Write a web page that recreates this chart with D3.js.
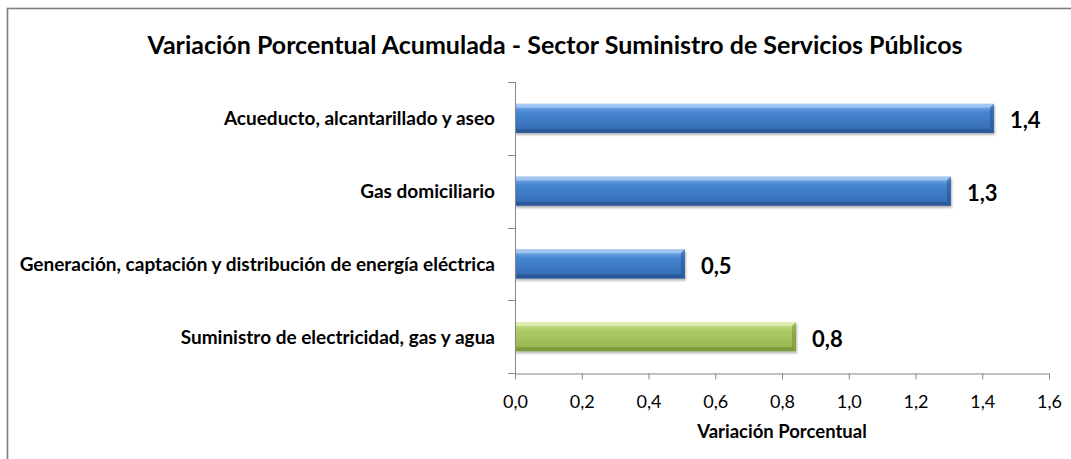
<!DOCTYPE html>
<html>
<head>
<meta charset="utf-8">
<script src="https://cdn.jsdelivr.net/npm/d3@7"></script>
<style>
  html, body { margin: 0; padding: 0; background: #fff; }
  svg { display: block; font-family: Lato, "Noto Sans", sans-serif; }
</style>
</head>
<body>
<svg id="chart" width="1071" height="459"></svg>
<script>
// Data
const categories = [
  'Acueducto, alcantarillado y aseo',
  'Gas domiciliario',
  'Generación, captación y distribución de energía eléctrica',
  'Suministro de electricidad, gas y agua'
];
const values = [1.435, 1.306, 0.509, 0.842];
const isTotal = [false, false, false, true];
const xTicks = [0, 0.2, 0.4, 0.6, 0.8, 1.0, 1.2, 1.4, 1.6];

const title = 'Variación Porcentual Acumulada - Sector Suministro de Servicios Públicos';
const xTitle = 'Variación Porcentual';

const svg = d3.select('#chart');
const W = 1071, H = 459;
const m = { left: 515, right: 1049, top: 82, bottom: 373 };

// outer frame
svg.append('rect')
  .attr('x', 7.5).attr('y', 8.5)
  .attr('width', W + 10).attr('height', H + 10)
  .attr('fill', 'none').attr('stroke', '#7f7f7f').attr('stroke-width', 1.6);

// Gradients
const defs = svg.append('defs');
const palettes = {
  blue: { top: '#86b6ec', mid: '#4684d2', bot: '#336aaf', dark: '#204a84', light: '#b0d2f7' },
  green: { top: '#d3e79c', mid: '#abc964', bot: '#94b24d', dark: '#6a8532', light: '#e4f2bc' }
};
Object.entries(palettes).forEach(([k, p]) => {
  const g = defs.append('linearGradient').attr('id', 'grad-' + k)
    .attr('x1', 0).attr('y1', 0).attr('x2', 0).attr('y2', 1);
  g.append('stop').attr('offset', '0%').attr('stop-color', p.top);
  g.append('stop').attr('offset', '30%').attr('stop-color', p.mid);
  g.append('stop').attr('offset', '100%').attr('stop-color', p.bot);
});
const shadow = defs.append('filter').attr('id', 'shadow')
  .attr('x', '-5%').attr('y', '-20%').attr('width', '110%').attr('height', '160%');
shadow.append('feDropShadow').attr('dx', 1).attr('dy', 2).attr('stdDeviation', 1.2)
  .attr('flood-color', '#000').attr('flood-opacity', 0.3);

const x = d3.scaleLinear().domain([0, 1.6]).range([m.left, m.right]);
const y = d3.scaleBand().domain(categories).range([m.top, m.bottom]).paddingInner(0.6).paddingOuter(0.3);

// Title
svg.append('text')
  .attr('x', 555).attr('y', 54)
  .attr('text-anchor', 'middle')
  .attr('font-size', 25).attr('font-weight', 'bold').attr('fill', '#000')
  .text(title);

// Bars
const bev = 4;
const bars = svg.append('g').selectAll('g').data(categories).enter().append('g')
  .attr('filter', 'url(#shadow)');
bars.each(function (c, i) {
  const g = d3.select(this);
  const p = isTotal[i] ? palettes.green : palettes.blue;
  const x0 = x(0), x1 = x(values[i]), y0 = y(c), y1 = y(c) + y.bandwidth();
  g.append('rect')
    .attr('x', x0).attr('y', y0).attr('width', x1 - x0).attr('height', y1 - y0)
    .attr('fill', `url(#grad-${isTotal[i] ? 'green' : 'blue'})`);
  // bevel: top light, bottom & right dark
  g.append('polygon')
    .attr('points', [[x0, y0], [x1, y0], [x1 - bev, y0 + bev], [x0, y0 + bev]].join(' '))
    .attr('fill', p.light).attr('opacity', 0.7);
  g.append('polygon')
    .attr('points', [[x0, y1], [x1, y1], [x1 - bev, y1 - bev], [x0, y1 - bev]].join(' '))
    .attr('fill', p.dark).attr('opacity', 0.55);
  g.append('polygon')
    .attr('points', [[x1, y0], [x1, y1], [x1 - bev, y1 - bev], [x1 - bev, y0 + bev]].join(' '))
    .attr('fill', p.dark).attr('opacity', 0.45);
});

// Value labels
svg.append('g').selectAll('text').data(categories).enter().append('text')
  .attr('x', (c, i) => x(values[i]) + 16)
  .attr('y', c => y(c) + y.bandwidth() / 2 + 10)
  .attr('font-size', 22).attr('font-weight', 'bold').attr('fill', '#000')
  .text((c, i) => d3.format('.1f')(values[i]).replace('.', ','));

// Y axis
const yAxis = svg.append('g');
yAxis.append('line')
  .attr('x1', m.left + 0.5).attr('x2', m.left + 0.5)
  .attr('y1', m.top).attr('y2', m.bottom)
  .attr('stroke', '#868686').attr('stroke-width', 1);
const step = (m.bottom - m.top) / categories.length;
d3.range(categories.length + 1).forEach(k => {
  const yy = Math.round(m.top + k * step) + 0.5;
  yAxis.append('line')
    .attr('x1', m.left - 7).attr('x2', m.left + 0.5)
    .attr('y1', yy).attr('y2', yy)
    .attr('stroke', '#868686');
});
yAxis.selectAll('text.cat').data(categories).enter().append('text')
  .attr('class', 'cat')
  .attr('x', 495)
  .attr('y', c => y(c) + y.bandwidth() / 2 + 7)
  .attr('text-anchor', 'end')
  .attr('font-size', 19).attr('font-weight', 'bold').attr('fill', '#000')
  .text(c => c);

// X axis
const xAxis = svg.append('g')
  .attr('transform', `translate(0,${m.bottom + 0.5})`)
  .call(d3.axisBottom(x).tickValues(xTicks).tickSize(6).tickSizeOuter(0)
    .tickFormat(d => d3.format('.1f')(d).replace('.', ',')));
xAxis.select('.domain').attr('stroke', '#868686');
xAxis.selectAll('.tick line').attr('stroke', '#868686');
xAxis.selectAll('.tick text')
  .attr('font-family', 'Lato, "Noto Sans", sans-serif')
  .attr('font-size', 18).attr('fill', '#000').attr('y', 16).attr('dy', '1.05em');

svg.append('text')
  .attr('x', (m.left + m.right) / 2).attr('y', 438)
  .attr('text-anchor', 'middle')
  .attr('font-size', 18.5).attr('font-weight', 'bold').attr('fill', '#000')
  .text(xTitle);
</script>
</body>
</html>
